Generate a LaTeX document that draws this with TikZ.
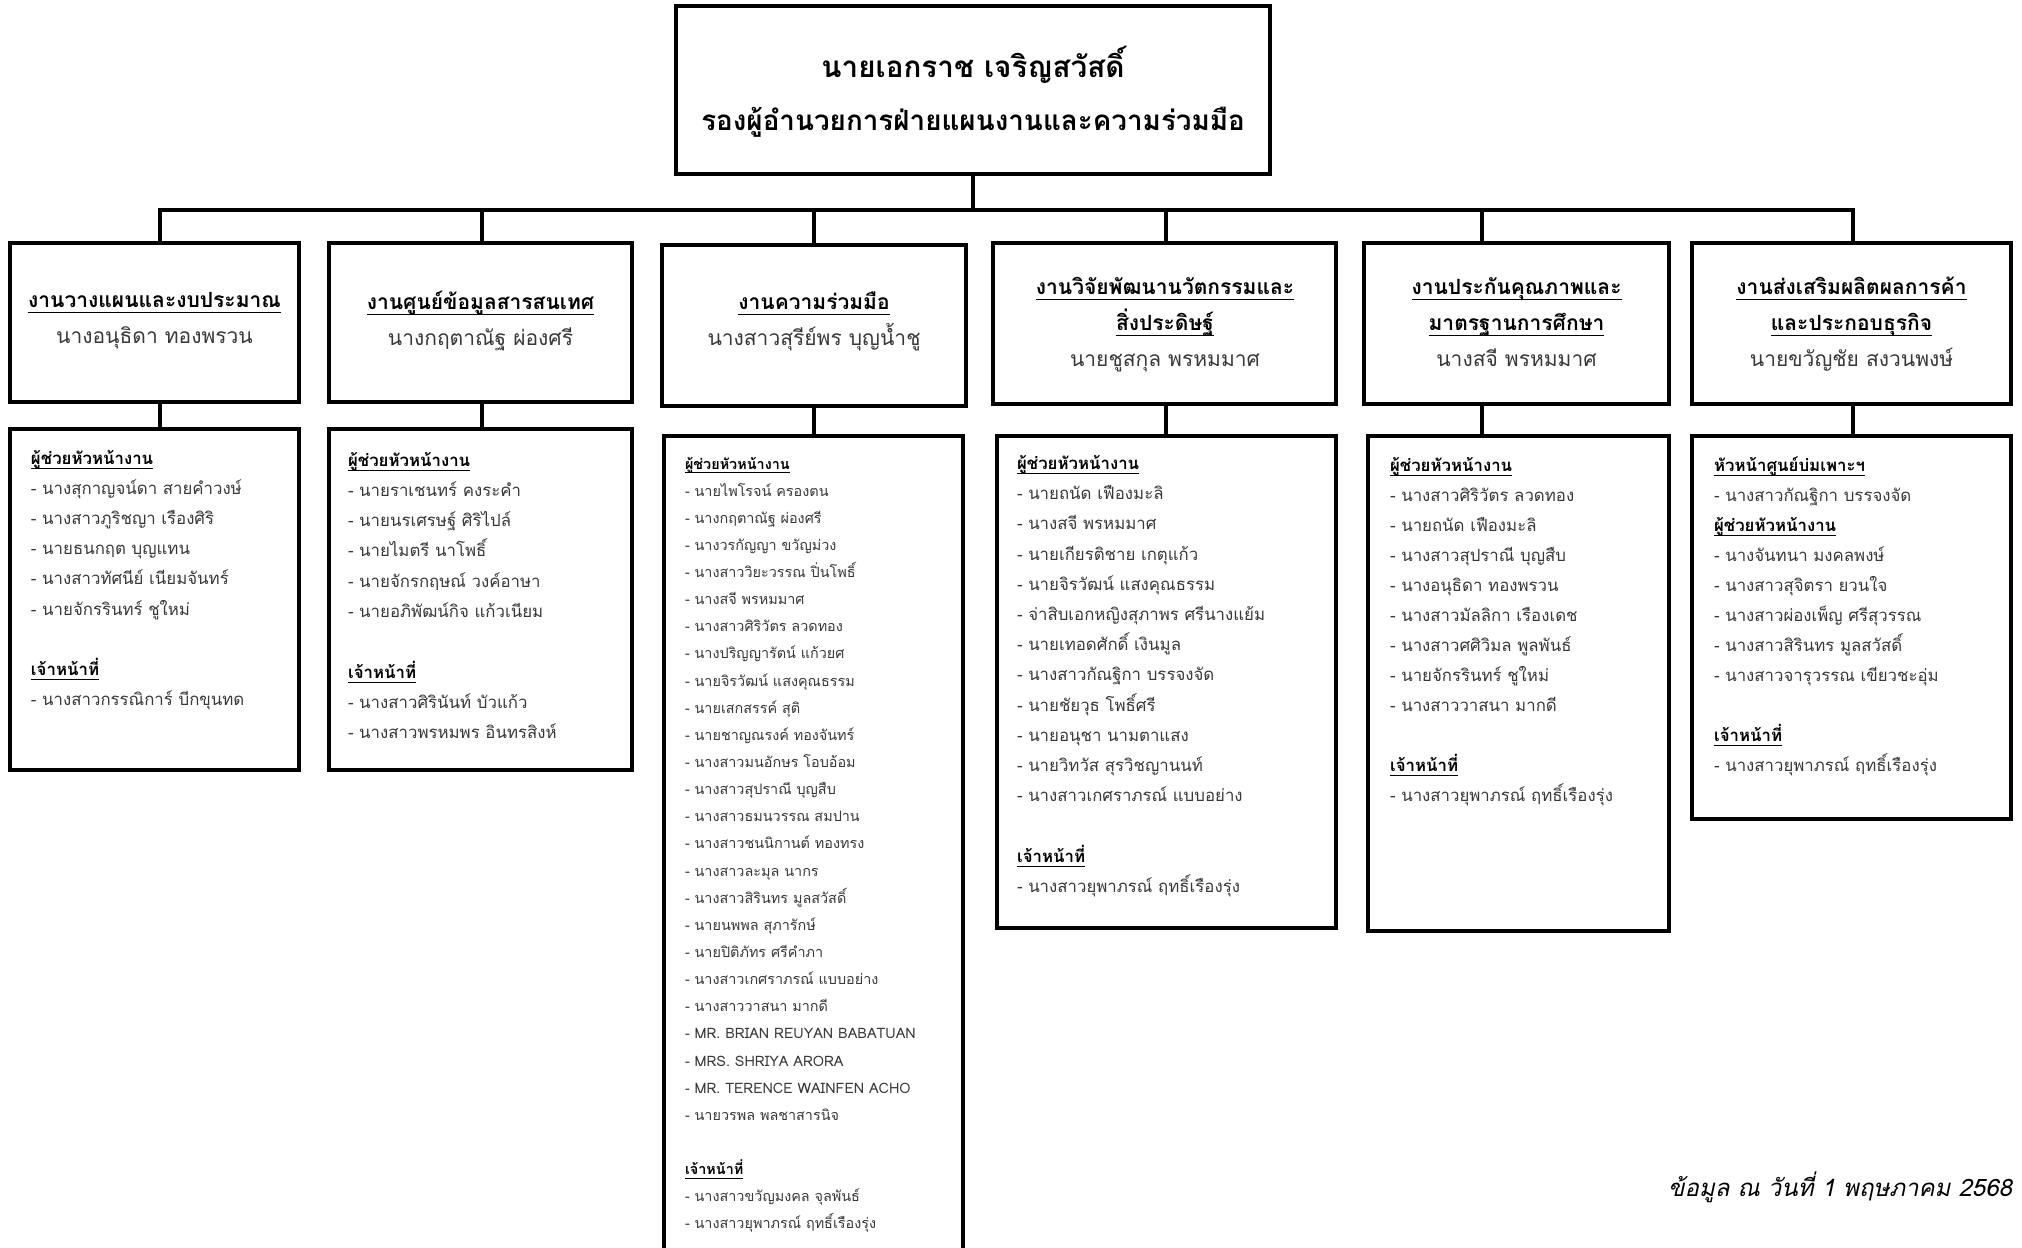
\documentclass[tikz,border=0pt]{standalone}
\usepackage{fontspec}
\setmainfont[Script=Thai]{Loma}
\usetikzlibrary{fit}
\definecolor{txtgray}{gray}{0.22}
\newcommand\ulx[1]{\setbox0=\hbox{#1}\rlap{\vrule width\wd0 height -0.22em depth 0.29em}\box0}
\newcommand\stk[2]{\vtop{\baselineskip=#1\lineskiplimit=-100pt\lineskip=0pt\relax #2}}
\newcommand\hd[1]{\hbox{\color{black}\bfseries\ulx{#1}}}
\newcommand\itm[1]{\hbox{- #1}}
\newcommand\bl{\hbox{}}
\newcommand\ci[1]{\hbox to 0pt{\hss#1\hss}}
\begin{document}
\begin{tikzpicture}[x=0.5pt,y=-0.5pt,
  box/.style={draw=black,line width=2pt,inner sep=0pt},
  conn/.style={draw=black,line width=2pt},
  txt/.style={inner sep=0pt,outer sep=0pt},
  hdtxt/.style={txt,anchor=base,font=\fontsize{10.5pt}{12pt}\selectfont},
  lotxt/.style={txt,anchor=base west,text=txtgray,font=\fontsize{8.4pt}{10pt}\selectfont}]
\useasboundingbox (0,0) rectangle (2022,1247);
% top
\node[box, fit={(676,6) (1270,174)}] (top) {};
\node[txt,anchor=base] (toptxt) at (973,78) {\bfseries\stk{26pt}{\ci{\fontsize{14.8pt}{17pt}\selectfont นายเอกราช เจริญสวัสดิ์}\ci{\fontsize{13.9pt}{17pt}\selectfont รองผู้อำนวยการฝ่ายแผนงานและความร่วมมือ}}};
% bus coordinates
\coordinate (b1) at (160,210);
\coordinate (b2) at (482,210);
\coordinate (b3) at (814,210);
\coordinate (b4) at (1166,210);
\coordinate (b5) at (1482,210);
\coordinate (b6) at (1853,210);
% headers
\node[box, fit={(10,243) (299,402)}] (h1) {};
\node[box, fit={(329,243) (632,402)}] (h2) {};
\node[box, fit={(662,245) (966,406)}] (h3) {};
\node[box, fit={(993,243) (1336,404)}] (h4) {};
\node[box, fit={(1364,243) (1669,404)}] (h5) {};
\node[box, fit={(1692,243) (2011,404)}] (h6) {};
% lower boxes
\node[box, fit={(10,429) (299,770)}] (l1) {};
\node[box, fit={(329,429) (632,770)}] (l2) {};
\node[box, fit={(664,436) (963,1262)}] (l3) {};
\node[box, fit={(997,436) (1336,928)}] (l4) {};
\node[box, fit={(1368,436) (1669,931)}] (l5) {};
\node[box, fit={(1692,436) (2011,819)}] (l6) {};
% connectors
\draw[conn] (top.south) -- (top.south |- b1);
\draw[conn,line join=miter] (h1.north -| b1) -- (b1) -- (b6) -- (h6.north -| b6);
\draw[conn] (b2) -- (h2.north -| b2);
\draw[conn] (b3) -- (h3.north -| b3);
\draw[conn] (b4) -- (h4.north -| b4);
\draw[conn] (b5) -- (h5.north -| b5);
\draw[conn] (h1.south -| b1) -- (l1.north -| b1);
\draw[conn] (h2.south -| b2) -- (l2.north -| b2);
\draw[conn] (h3.south -| b3) -- (l3.north -| b3);
\draw[conn] (h4.south -| b4) -- (l4.north -| b4);
\draw[conn] (h5.south -| b5) -- (l5.north -| b5);
\draw[conn] (h6.south -| b6) -- (l6.north -| b6);
% header texts
\node[hdtxt] (ht1) at (154.5,307) {\stk{18pt}{\ci{\bfseries\ulx{งานวางแผนและงบประมาณ}}\ci{\color{txtgray}นางอนุธิดา ทองพรวน}}};
\node[hdtxt] (ht2) at (480.5,309) {\stk{18pt}{\ci{\bfseries\ulx{งานศูนย์ข้อมูลสารสนเทศ}}\ci{\color{txtgray}นางกฤตาณัฐ ผ่องศรี}}};
\node[hdtxt] (ht3) at (814,309) {\stk{18pt}{\ci{\bfseries\ulx{งานความร่วมมือ}}\ci{\color{txtgray}นางสาวสุรีย์พร บุญน้ำชู}}};
\node[hdtxt] (ht4) at (1165,294) {\stk{18pt}{\ci{\bfseries\ulx{งานวิจัยพัฒนานวัตกรรมและ}}\ci{\bfseries\ulx{สิ่งประดิษฐ์}}\ci{\color{txtgray}นายชูสกุล พรหมมาศ}}};
\node[hdtxt] (ht5) at (1516.5,294) {\stk{18pt}{\ci{\bfseries\ulx{งานประกันคุณภาพและ}}\ci{\bfseries\ulx{มาตรฐานการศึกษา}}\ci{\color{txtgray}นางสจี พรหมมาศ}}};
\node[hdtxt] (ht6) at (1851.5,294) {\stk{18pt}{\ci{\bfseries\ulx{งานส่งเสริมผลิตผลการค้า}}\ci{\bfseries\ulx{และประกอบธุรกิจ}}\ci{\color{txtgray}นายขวัญชัย สงวนพงษ์}}};
% lower texts
\node[lotxt] (lt1) at (31,464.5) {\stk{15.05pt}{\hd{ผู้ช่วยหัวหน้างาน}
\itm{นางสุกาญจน์ดา สายคำวงษ์}
\itm{นางสาวภูริชญา เรืองศิริ}
\itm{นายธนกฤต บุญแทน}
\itm{นางสาวทัศนีย์ เนียมจันทร์}
\itm{นายจักรรินทร์ ชูใหม่}
\bl
\hd{เจ้าหน้าที่}
\itm{นางสาวกรรณิการ์ บีกขุนทด}}};
\node[lotxt] (lt2) at (348,466) {\stk{15.15pt}{\hd{ผู้ช่วยหัวหน้างาน}
\itm{นายราเชนทร์ คงระคำ}
\itm{นายนรเศรษฐ์ ศิริไปล์}
\itm{นายไมตรี นาโพธิ์}
\itm{นายจักรกฤษณ์ วงค์อาษา}
\itm{นายอภิพัฒน์กิจ แก้วเนียม}
\bl
\hd{เจ้าหน้าที่}
\itm{นางสาวศิรินันท์ บัวแก้ว}
\itm{นางสาวพรหมพร อินทรสิงห์}}};
\node[lotxt,font=\fontsize{7.2pt}{9pt}\selectfont] (lt3) at (685,469) {\stk{13.57pt}{\hd{ผู้ช่วยหัวหน้างาน}
\itm{นายไพโรจน์ ครองตน}
\itm{นางกฤตาณัฐ ผ่องศรี}
\itm{นางวรกัญญา ขวัญม่วง}
\itm{นางสาววิยะวรรณ ปิ่นโพธิ์}
\itm{นางสจี พรหมมาศ}
\itm{นางสาวศิริวัตร ลวดทอง}
\itm{นางปริญญารัตน์ แก้วยศ}
\itm{นายจิรวัฒน์ แสงคุณธรรม}
\itm{นายเสกสรรค์ สุติ}
\itm{นายชาญณรงค์ ทองจันทร์}
\itm{นางสาวมนอักษร โอบอ้อม}
\itm{นางสาวสุปราณี บุญสืบ}
\itm{นางสาวธมนวรรณ สมปาน}
\itm{นางสาวชนนิกานต์ ทองทรง}
\itm{นางสาวละมุล นากร}
\itm{นางสาวสิรินทร มูลสวัสดิ์}
\itm{นายนพพล สุภารักษ์}
\itm{นายปิติภัทร ศรีคำภา}
\itm{นางสาวเกศราภรณ์ แบบอย่าง}
\itm{นางสาววาสนา มากดี}
\itm{MR. BRIAN REUYAN BABATUAN}
\itm{MRS. SHRIYA ARORA}
\itm{MR. TERENCE WAINFEN ACHO}
\itm{นายวรพล พลชาสารนิจ}
\bl
\hd{เจ้าหน้าที่}
\itm{นางสาวขวัญมงคล จุลพันธ์}
\itm{นางสาวยุพาภรณ์ ฤทธิ์เรืองรุ่ง}}};
\node[lotxt] (lt4) at (1017,469.5) {\stk{15.1pt}{\hd{ผู้ช่วยหัวหน้างาน}
\itm{นายถนัด เฟืองมะลิ}
\itm{นางสจี พรหมมาศ}
\itm{นายเกียรติชาย เกตุแก้ว}
\itm{นายจิรวัฒน์ แสงคุณธรรม}
\itm{จ่าสิบเอกหญิงสุภาพร ศรีนางแย้ม}
\itm{นายเทอดศักดิ์ เงินมูล}
\itm{นางสาวกัณฐิกา บรรจงจัด}
\itm{นายชัยวุธ โพธิ์ศรี}
\itm{นายอนุชา นามตาแสง}
\itm{นายวิทวัส สุรวิชญานนท์}
\itm{นางสาวเกศราภรณ์ แบบอย่าง}
\bl
\hd{เจ้าหน้าที่}
\itm{นางสาวยุพาภรณ์ ฤทธิ์เรืองรุ่ง}}};
\node[lotxt] (lt5) at (1390,471) {\stk{15pt}{\hd{ผู้ช่วยหัวหน้างาน}
\itm{นางสาวศิริวัตร ลวดทอง}
\itm{นายถนัด เฟืองมะลิ}
\itm{นางสาวสุปราณี บุญสืบ}
\itm{นางอนุธิดา ทองพรวน}
\itm{นางสาวมัลลิกา เรืองเดช}
\itm{นางสาวศศิวิมล พูลพันธ์}
\itm{นายจักรรินทร์ ชูใหม่}
\itm{นางสาววาสนา มากดี}
\bl
\hd{เจ้าหน้าที่}
\itm{นางสาวยุพาภรณ์ ฤทธิ์เรืองรุ่ง}}};
\node[lotxt] (lt6) at (1714,471) {\stk{15pt}{\hd{หัวหน้าศูนย์บ่มเพาะฯ}
\itm{นางสาวกัณฐิกา บรรจงจัด}
\hd{ผู้ช่วยหัวหน้างาน}
\itm{นางจันทนา มงคลพงษ์}
\itm{นางสาวสุจิตรา ยวนใจ}
\itm{นางสาวผ่องเพ็ญ ศรีสุวรรณ}
\itm{นางสาวสิรินทร มูลสวัสดิ์}
\itm{นางสาวจารุวรรณ เขียวชะอุ่ม}
\bl
\hd{เจ้าหน้าที่}
\itm{นางสาวยุพาภรณ์ ฤทธิ์เรืองรุ่ง}}};
% footnote
\node[txt,anchor=base east] (note) at (2012,1196) {\fontsize{12pt}{15pt}\selectfont\itshape ข้อมูล ณ วันที่ 1 พฤษภาคม 2568};
\end{tikzpicture}
\end{document}
